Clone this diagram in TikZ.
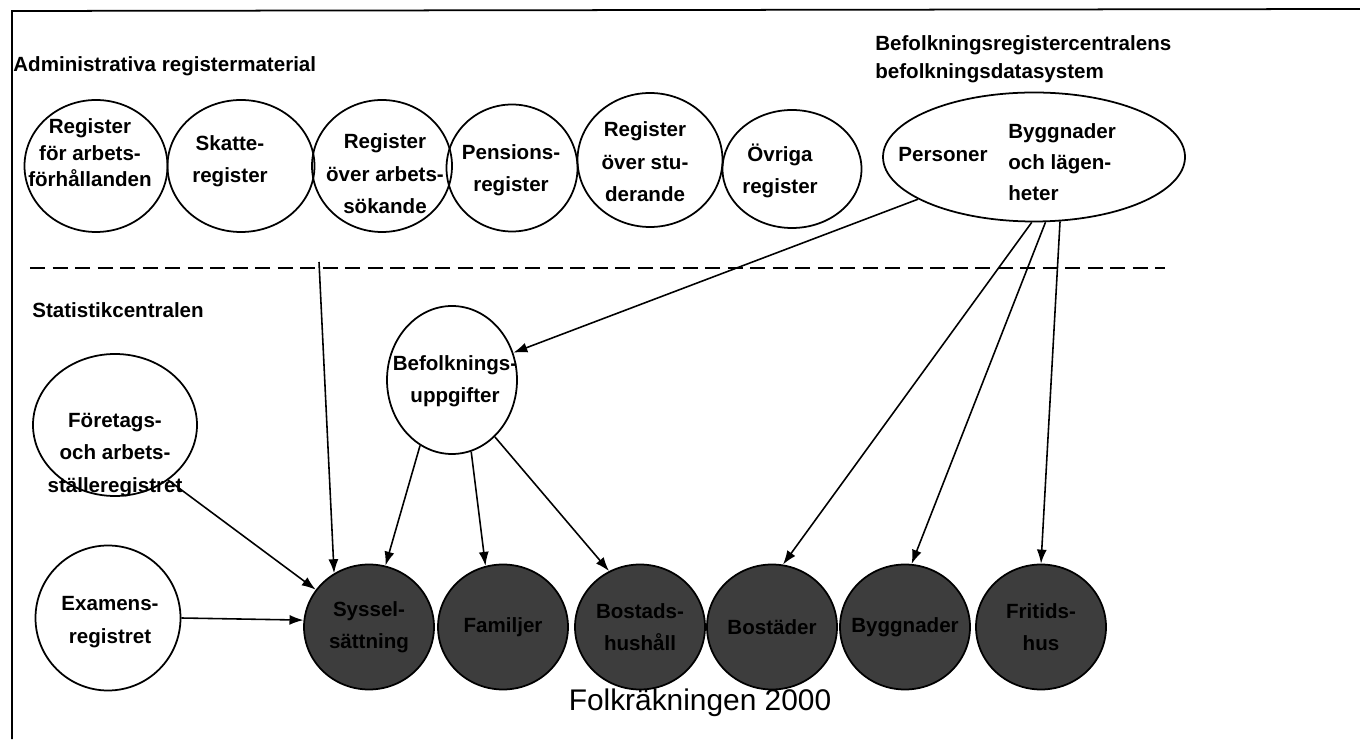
\documentclass[tikz,border=0pt]{standalone}
\usepackage{fontspec}
\setmainfont{Liberation Sans}
\usetikzlibrary{arrows.meta, shapes.geometric}

\newcommand{\lbl}{\fontsize{11.7}{18.5}\selectfont\bfseries}

\begin{document}
\begin{tikzpicture}[
    reg/.style={ellipse, draw, line width=1pt, inner sep=0pt},
    res/.style={reg, fill=black!76, minimum width=2.6cm, minimum height=2.5cm},
    txt/.style={inner sep=0pt, align=center, font=\lbl},
    pil/.style={-{Latex[length=2.8mm,width=2mm]}, line width=0.9pt}]
    \useasboundingbox (0,0) rectangle (27.2,14.78);

    % Frame
    \draw[line width=1pt] (0.24,0) -- (0.24,14.56) -- (27.2,14.6);

    % Headings
    \node[txt, anchor=west] (admin) at (0.26,13.46) {Administrativa registermaterial};
    \node[txt, anchor=west, align=left, font=\fontsize{11.7}{15.9}\selectfont\bfseries] (brc) at (17.5,13.6)
        {Befolkningsregistercentralens\\befolkningsdatasystem};

    % Administrative registers
    \node[reg, minimum width=2.86cm, minimum height=2.64cm] (forh) at (1.92,11.46) {};
    \node[txt, font=\fontsize{11.7}{15}\selectfont\bfseries] (forhtxt) at (1.8,11.72) {Register\\för arbets-\\förhållanden};
    \node[reg, minimum width=2.94cm, minimum height=2.64cm] (skatt) at (4.82,11.46) {};
    \node[txt] (skatttxt) at (4.6,11.56) {Skatte-\\register};
    \node[reg, minimum width=2.8cm, minimum height=2.64cm] (arbsok) at (7.64,11.46) {};
    \node[txt] (arbsoktxt) at (7.7,11.3) {Register\\över arbets-\\sökande};
    \node[reg, minimum width=2.62cm, minimum height=2.54cm] (pens) at (10.24,11.42) {};
    \node[txt] (penstxt) at (10.22,11.38) {Pensions-\\register};
    \node[reg, minimum width=2.9cm, minimum height=2.68cm] (stud) at (13.0,11.58) {};
    \node[txt] (studtxt) at (12.9,11.54) {Register\\över stu-\\derande};
    \node[reg, minimum width=2.78cm, minimum height=2.36cm] (ovr) at (15.84,11.4) {};
    \node[txt] (ovrtxt) at (15.6,11.36) {Övriga\\register};

    % Population data system
    \node[reg, minimum width=6.04cm, minimum height=2.58cm] (bdsys) at (20.68,11.64) {};
    \node[txt] (pers) at (18.86,11.68) {Personer};
    \node[txt, anchor=west, align=left, font=\fontsize{11.7}{17.6}\selectfont\bfseries] (byglag) at (20.16,11.54)
        {Byggnader\\och lägen-\\heter};

    % Dashed divider line
    \draw[dashed, dash pattern=on 0.3cm off 0.15cm, line width=0.9pt] (0.6,9.42) -- (23.3,9.42);

    % Statistikcentralen
    \node[txt, anchor=west] (stat) at (0.64,8.58) {Statistikcentralen};
    \node[reg, minimum width=2.6cm, minimum height=2.96cm] (befupp) at (9.04,7.18) {};
    \node[txt] (befupptxt) at (9.1,7.16) {Befolknings-\\uppgifter};
    \node[reg, minimum width=3.28cm, minimum height=2.84cm] (foret) at (2.3,6.28) {};
    \node[txt] (forettxt) at (2.3,5.68) {Företags-\\och arbets-\\ställeregistret};
    \node[reg, minimum width=2.9cm, minimum height=2.9cm] (exam) at (2.16,2.42) {};
    \node[txt] (examtxt) at (2.2,2.34) {Examens-\\registret};

    % Census results
    \node[res] (syssel) at (7.38,2.24) {};
    \node[txt] (sysseltxt) at (syssel) {Syssel-\\sättning};
    \node[res] (famil) at (10.06,2.24) {};
    \node[txt] (familtxt) at (famil) {Familjer};
    \node[res] (bohush) at (12.8,2.24) {};
    \node[txt] (bohushtxt) at (bohush) {Bostads-\\hushåll};
    \node[res] (bostad) at (15.44,2.24) {};
    \node[txt] (bostadtxt) at (bostad) {Bostäder};
    \node[res] (bygg) at (18.1,2.24) {};
    \node[txt] (byggtxt) at (bygg) {Byggnader};
    \node[res] (fritid) at (20.82,2.24) {};
    \node[txt] (fritidtxt) at (fritid) {Fritids-\\hus};

    \node[font=\fontsize{17}{20}\selectfont, inner sep=0pt] (folk) at (14.0,0.72) {Folkräkningen 2000};

    % Arrows
    \coordinate (arbfot) at (6.38,9.54);
    \draw[pil] (arbfot) -- (syssel.123);
    \draw[pil] (bdsys.200) -- (befupp.24);
    \draw[pil] (bdsys.268) -- (bostad.80);
    \draw[pil] (bdsys.280) -- (bygg.84);
    \draw[pil] (bdsys.292) -- (fritid.90);
    \draw[pil] (befupp.244) -- (syssel.75);
    \draw[pil] (befupp.285) -- (famil.106);
    \draw[pil] (befupp.307) -- (bohush.119);
    \draw[pil] (foret.314) -- (syssel.145);
    \draw[pil] (exam.east) -- (syssel.174);
\end{tikzpicture}
\end{document}
